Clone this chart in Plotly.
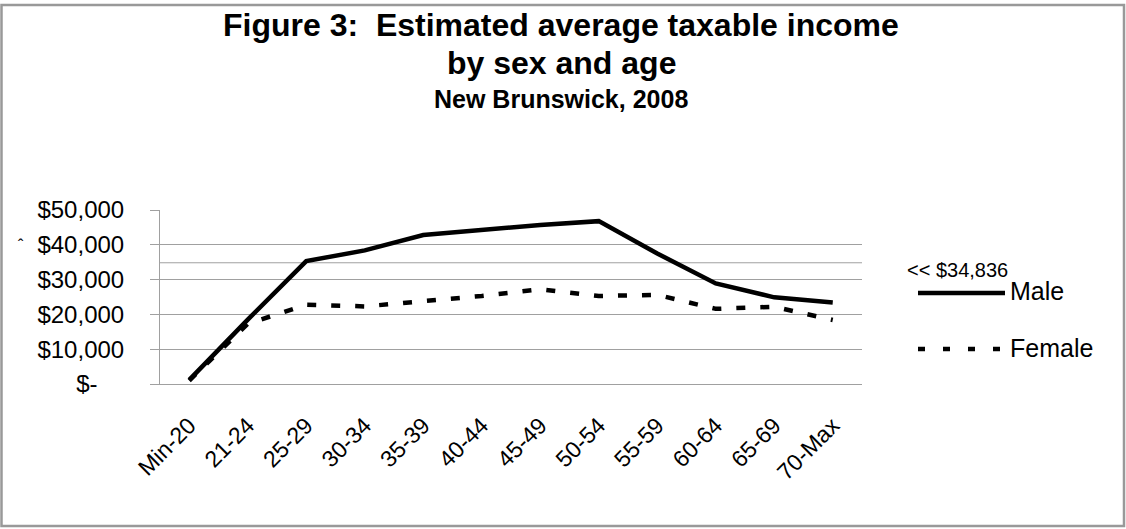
import plotly.graph_objects as go

# ---- data ----
age_groups = ["Min-20", "21-24", "25-29", "30-34", "35-39", "40-44",
              "45-49", "50-54", "55-59", "60-64", "65-69", "70-Max"]
male = [1200, 18500, 35300, 38400, 42800, 44400, 45700, 46800, 37500, 28900, 24900, 23400]
female = [1000, 17300, 22800, 22300, 23800, 25300, 27200, 25300, 25600, 21600, 22200, 18400]
avg_income = 34836
y_tickvals = [0, 10000, 20000, 30000, 40000, 50000]
y_ticktext = ["$-\u00a0\u00a0\u00a0\u00a0", "$10,000", "$20,000", "$30,000", "$40,000", "$50,000"]

# ---- layout geometry (pixels) ----
W, H = 1126, 529
L, R, T, B = 160, 862, 210, 384
PW, PH = R - L, B - T


def px(x):
    return (x - L) / PW


def py(y):
    return (B - y) / PH


FONT = "Liberation Sans, Arial, sans-serif"
GRID = "#a0a0a0"
DASH = "9px,15px"
LEG_DASH = "7px,18px"

fig = go.Figure()
fig.add_trace(go.Scatter(x=age_groups, y=male, mode="lines", name="Male",
                         line=dict(color="black", width=4.5), showlegend=False))
fig.add_trace(go.Scatter(x=age_groups, y=female, mode="lines", name="Female",
                         line=dict(color="black", width=4.5, dash=DASH), showlegend=False))

shapes = [
    # extra reference line
    dict(type="line", xref="paper", yref="y", x0=0, x1=1, y0=avg_income, y1=avg_income,
         line=dict(color=GRID, width=1), layer="below"),
    # outer border
    dict(type="rect", xref="paper", yref="paper", x0=px(1.5), x1=px(1124), y0=py(526), y1=py(5),
         line=dict(color="#999999", width=2.5)),
    # legend samples
    dict(type="line", xref="paper", yref="paper", x0=px(918), x1=px(1005), y0=py(293), y1=py(293),
         line=dict(color="black", width=4.5)),
    dict(type="line", xref="paper", yref="paper", x0=px(918), x1=px(1001), y0=py(349), y1=py(349),
         line=dict(color="black", width=4.5, dash=LEG_DASH)),
]

annotations = [
    dict(text="<b>Figure 3:  Estimated average taxable income</b>", x=px(561), y=py(25),
         xref="paper", yref="paper", showarrow=False, xanchor="center", yanchor="middle",
         font=dict(size=32, family=FONT, color="black")),
    dict(text="<b>by sex and age</b>", x=px(561), y=py(63),
         xref="paper", yref="paper", showarrow=False, xanchor="center", yanchor="middle",
         font=dict(size=32, family=FONT, color="black")),
    dict(text="<b>New Brunswick, 2008</b>", x=px(561), y=py(99),
         xref="paper", yref="paper", showarrow=False, xanchor="center", yanchor="middle",
         font=dict(size=25, family=FONT, color="black")),
    dict(text="<< $" + f"{avg_income:,}", x=px(905), y=py(270),
         xref="paper", yref="paper", showarrow=False, xanchor="left", yanchor="middle",
         font=dict(size=20, family=FONT, color="black")),
    dict(text="Male", x=px(1008), y=py(291),
         xref="paper", yref="paper", showarrow=False, xanchor="left", yanchor="middle",
         font=dict(size=25, family=FONT, color="black")),
    dict(text="Female", x=px(1008), y=py(348),
         xref="paper", yref="paper", showarrow=False, xanchor="left", yanchor="middle",
         font=dict(size=25, family=FONT, color="black")),
    dict(text="ˆ", x=px(21), y=py(245),
         xref="paper", yref="paper", showarrow=False, xanchor="center", yanchor="middle",
         font=dict(size=16, family=FONT, color="black")),
]

fig.update_layout(
    width=W, height=H,
    margin=dict(l=L, r=W - R, t=T, b=H - B, pad=0),
    paper_bgcolor="white", plot_bgcolor="white",
    shapes=shapes, annotations=annotations,
    font=dict(family=FONT, color="black"),
)
fig.update_xaxes(type="category", range=[-0.5, 11.5], showgrid=False, zeroline=False,
                 showline=True, linecolor=GRID, linewidth=1, ticks="", tickangle=-45,
                 tickfont=dict(size=23, family=FONT, color="black"), ticklabelstandoff=18)
fig.update_yaxes(range=[0, 50000], tickvals=y_tickvals, ticktext=y_ticktext,
                 showgrid=True, gridcolor=GRID, gridwidth=1, zeroline=False,
                 showline=True, linecolor=GRID, linewidth=1,
                 ticks="outside", ticklen=9, tickcolor=GRID, tickwidth=1,
                 tickfont=dict(size=24, family=FONT, color="black"), ticklabelstandoff=21)

fig.write_html("out.html")
